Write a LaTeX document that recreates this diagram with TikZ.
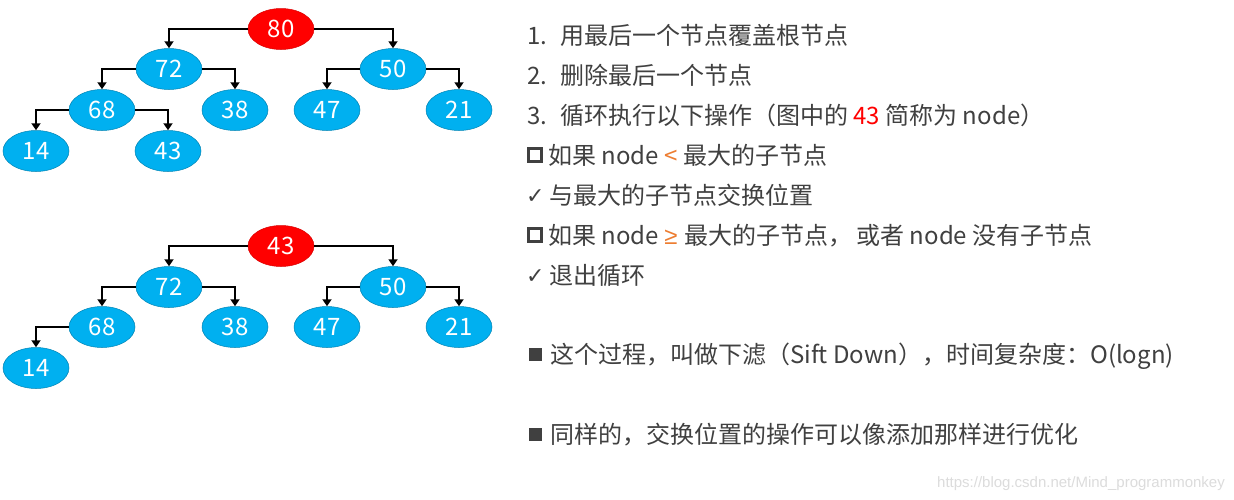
\documentclass[tikz,border=0pt]{standalone}
\usepackage{fontspec}
\setmainfont{Noto Sans CJK SC}
\newfontfamily\dejavu{DejaVu Sans}
\newfontfamily\urlfont{Liberation Sans}
\usetikzlibrary{shapes.geometric,arrows.meta}
\definecolor{nodeblue}{HTML}{00B0F0}
\definecolor{nodered}{HTML}{FF0000}
\definecolor{txt}{HTML}{404040}
\definecolor{orng}{HTML}{ED7D31}
\definecolor{wm}{HTML}{DCDCDC}
\begin{document}
\begin{tikzpicture}[x=1pt,y=-1pt,
  heapnode/.style={ellipse, fill=nodeblue, draw=nodeblue!75!black, line width=0.5pt,
    minimum width=66pt, minimum height=41pt, inner sep=0pt, text=white,
    font=\fontsize{24}{24}\selectfont},
  rootnode/.style={heapnode, fill=nodered, draw=nodered!85!black},
  heapedge/.style={line width=2pt, -{Triangle[length=7pt,width=9pt]}},
  textline/.style={anchor=base west, inner sep=0pt, text=txt, font=\fontsize{24}{24}\selectfont},
  hollowbox/.style={draw=txt, line width=3.3pt, minimum size=12.5pt, inner sep=0pt},
  solidbox/.style={fill=txt, minimum size=13pt, inner sep=0pt},
  checkmark/.style={anchor=base west, inner sep=0pt, text=txt, font=\dejavu\fontsize{22}{22}\selectfont},
]
\useasboundingbox (0,0) rectangle (1234,499);
\fill[white] (0,0) rectangle (1234,499);

% ---- tree 1 ----
\node[rootnode] (a80) at (281,29) {80};
\node[heapnode] (a72) at (169,69) {72};
\node[heapnode] (a50) at (393,69) {50};
\node[heapnode] (a68) at (102,110) {68};
\node[heapnode] (a38) at (235,110) {38};
\node[heapnode] (a47) at (327,110) {47};
\node[heapnode] (a21) at (459,110) {21};
\node[heapnode] (a14) at (36,151) {14};
\node[heapnode] (a43) at (168,151) {43};
\draw[heapedge] (a80.west) -| (a72.north);
\draw[heapedge] (a80.east) -| (a50.north);
\draw[heapedge] (a72.west) -| (a68.north);
\draw[heapedge] (a72.east) -| (a38.north);
\draw[heapedge] (a50.west) -| (a47.north);
\draw[heapedge] (a50.east) -| (a21.north);
\draw[heapedge] (a68.west) -| (a14.north);
\draw[heapedge] (a68.east) -| (a43.north);

% ---- tree 2 ----
\node[rootnode] (b43) at (281,246) {43};
\node[heapnode] (b72) at (169,287) {72};
\node[heapnode] (b50) at (393,287) {50};
\node[heapnode] (b68) at (102,327) {68};
\node[heapnode] (b38) at (235,327) {38};
\node[heapnode] (b47) at (327,327) {47};
\node[heapnode] (b21) at (459,327) {21};
\node[heapnode] (b14) at (36,368) {14};
\draw[heapedge] (b43.west) -| (b72.north);
\draw[heapedge] (b43.east) -| (b50.north);
\draw[heapedge] (b72.west) -| (b68.north);
\draw[heapedge] (b72.east) -| (b38.north);
\draw[heapedge] (b50.west) -| (b47.north);
\draw[heapedge] (b50.east) -| (b21.north);
\draw[heapedge] (b68.west) -| (b14.north);

% ---- text ----
\node[textline] (t1) at (527,44) {\makebox[33pt][l]{1.}用最后一个节点覆盖根节点};
\node[textline] (t2) at (527,84) {\makebox[33pt][l]{2.}删除最后一个节点};
\node[textline] (t3) at (527,124) {\makebox[33pt][l]{3.}循环执行以下操作（图中的 \textcolor{nodered}{43} 简称为 node）};
\node[hollowbox] (i4) at (535,155) {};
\node[textline] (t4) at (548,164) {如果 node \textcolor{orng}{<} 最大的子节点};
\node[checkmark] (c5) at (526,203) {✓};
\node[textline] (t5) at (549,204) {与最大的子节点交换位置};
\node[hollowbox] (i6) at (535,235) {};
\node[textline] (t6) at (548,244) {如果 node \textcolor{orng}{\urlfont ≥}\hspace{7pt}最大的子节点，\,或者 node 没有子节点};
\node[checkmark] (c7) at (526,283) {✓};
\node[textline] (t7) at (549,284) {退出循环};
\node[solidbox] (s8) at (535,354) {};
\node[textline] (t8) at (550,363) {这个过程，叫做下滤（Sift Down），时间复杂度：O(logn)};
\node[solidbox] (s9) at (535,434) {};
\node[textline] (t9) at (550,443) {同样的，交换位置的操作可以像添加那样进行优化};

\node[anchor=base east, inner sep=0pt, text=wm, font=\urlfont\fontsize{15}{15}\selectfont] (url) at (1225,487) {https://blog.csdn.net/Mind\_programmonkey};
\end{tikzpicture}
\end{document}
